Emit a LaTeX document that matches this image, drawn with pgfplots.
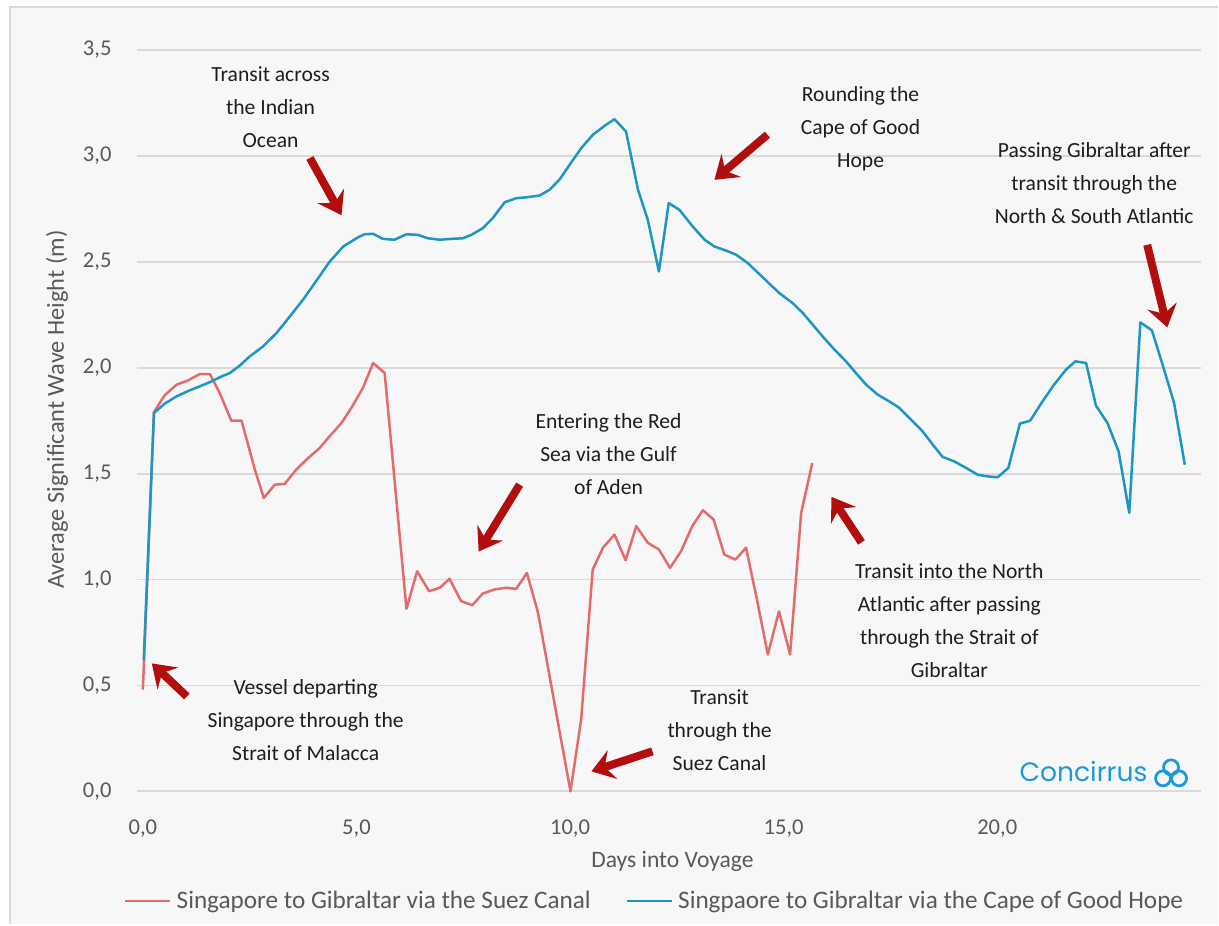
\documentclass[border=0pt]{standalone}
\usepackage{fontspec}
\setmainfont{Carlito}
\newfontfamily\logofont{Poppins}
\usepackage{pgfplots}
\pgfplotsset{compat=1.18}
\usetikzlibrary{arrows.meta}

\definecolor{chartbg}{RGB}{247,247,247}
\definecolor{framegray}{RGB}{217,217,217}
\definecolor{gridgray}{RGB}{217,217,217}
\definecolor{tickgray}{RGB}{89,89,89}
\definecolor{suezred}{RGB}{226,108,108}
\definecolor{capeblue}{RGB}{30,150,196}
\definecolor{arrowred}{RGB}{178,14,14}
\definecolor{logoblue}{RGB}{28,154,214}
\definecolor{notetext}{RGB}{30,30,30}

% Singapore -> Gibraltar via Suez (days, wave height m)
\pgfplotstableread{
day h
0.00 0.48
0.26 1.79
0.51 1.87
0.79 1.92
1.06 1.94
1.33 1.97
1.57 1.97
1.80 1.88
2.07 1.75
2.31 1.75
2.62 1.52
2.83 1.385
3.09 1.448
3.32 1.451
3.59 1.519
3.87 1.574
4.14 1.621
4.37 1.676
4.65 1.739
4.88 1.81
5.15 1.904
5.39 2.022
5.66 1.975
5.93 1.386
6.17 0.862
6.42 1.039
6.70 0.945
6.95 0.961
7.18 1.003
7.45 0.898
7.71 0.879
7.96 0.934
8.23 0.953
8.49 0.961
8.74 0.956
8.99 1.031
9.25 0.843
9.51 0.555
9.76 0.277
10.01 0.00
10.26 0.34
10.53 1.047
10.77 1.15
11.04 1.212
11.30 1.091
11.55 1.252
11.82 1.173
12.08 1.142
12.34 1.055
12.60 1.134
12.86 1.252
13.11 1.327
13.36 1.283
13.61 1.118
13.87 1.094
14.12 1.150
14.38 0.90
14.63 0.646
14.89 0.850
15.15 0.646
15.41 1.315
15.67 1.550
}\suez

% Singapore -> Gibraltar via the Cape of Good Hope
\pgfplotstableread{
day h
0.02 0.62
0.26 1.786
0.51 1.83
0.79 1.865
1.06 1.89
1.33 1.912
1.61 1.935
1.80 1.955
2.04 1.975
2.27 2.01
2.50 2.053
2.81 2.10
3.13 2.164
3.44 2.242
3.75 2.321
4.06 2.41
4.37 2.50
4.69 2.572
5.04 2.616
5.19 2.630
5.39 2.632
5.62 2.608
5.89 2.604
6.17 2.630
6.44 2.627
6.67 2.611
6.95 2.604
7.22 2.608
7.49 2.611
7.69 2.627
7.96 2.659
8.19 2.706
8.47 2.781
8.74 2.800
9.01 2.805
9.29 2.813
9.52 2.840
9.75 2.887
9.99 2.958
10.26 3.036
10.53 3.099
10.81 3.142
11.04 3.173
11.31 3.115
11.59 2.840
11.82 2.698
12.08 2.454
12.31 2.777
12.56 2.745
12.87 2.667
13.15 2.604
13.38 2.572
13.65 2.553
13.89 2.533
14.16 2.494
14.42 2.444
14.68 2.394
14.90 2.352
15.21 2.305
15.45 2.258
15.68 2.203
15.91 2.148
16.19 2.085
16.46 2.030
16.69 1.975
16.93 1.920
17.20 1.873
17.47 1.841
17.71 1.810
17.98 1.755
18.25 1.700
18.49 1.637
18.72 1.579
18.99 1.558
19.27 1.527
19.54 1.495
19.77 1.487
20.01 1.483
20.26 1.527
20.53 1.736
20.77 1.750
21.06 1.841
21.33 1.920
21.61 1.991
21.83 2.030
22.08 2.022
22.31 1.821
22.58 1.739
22.84 1.605
23.09 1.315
23.35 2.214
23.62 2.176
23.87 2.014
24.14 1.833
24.39 1.542
}\cape

\tikzset{
  note/.style={align=center, text=notetext, font=\fontsize{10.8}{16.5}\selectfont},
  callout/.style={arrowred, line width=4pt,
    -{Stealth[length=11pt, width=15pt, inset=4pt]}},
}

\begin{document}
\begin{tikzpicture}[x=0.5pt,y=0.5pt]
% chart area
\fill[white] (0,0) rectangle (1219,925);
\fill[chartbg] (10,0) rectangle (1219,918);
\draw[framegray, line width=1pt] (10,0) -- (10,918) -- (1219,918);

\begin{axis}[
  at={(68.5pt,66.5pt)}, anchor=south west,
  scale only axis, width=532.5pt, height=371pt,
  xmin=-0.14, xmax=24.77, ymin=0, ymax=3.5,
  clip=false,
  axis line style={draw=none},
  major tick length=0pt,
  xtick={0,5,10,15,20},
  ytick={0,0.5,1,1.5,2,2.5,3,3.5},
  ymajorgrids,
  grid style={gridgray, line width=0.9pt},
  /pgf/number format/.cd, fixed, fixed zerofill, precision=1, use comma,
  assume math mode=true,
  /pgfplots/.cd,
  tick label style={font=\fontsize{11.3}{13}\selectfont, text=tickgray},
  yticklabel style={anchor=east, inner sep=0pt, xshift=-12.5pt},
  xticklabel style={anchor=north, inner sep=0pt, yshift=-14pt},
  legend columns=2,
  legend style={at={(0.488,-0.148)}, anchor=center, draw=none, fill=none,
    font=\fontsize{12.6}{14}\selectfont, text=tickgray,
    /tikz/every even column/.append style={column sep=15pt},
    nodes={inner xsep=2.5pt}},
  legend image code/.code={\draw[#1] (0pt,0pt) -- (22.5pt,0pt);},
]
\addplot[suezred, line width=1.25pt, line join=round] table[x=day, y=h] {\suez};
\addlegendentry{Singapore to Gibraltar via the Suez Canal}
\addplot[capeblue, line width=1.25pt, line join=round] table[x=day, y=h] {\cape};
\addlegendentry{Singpaore to Gibraltar via the Cape of Good Hope}

% route notes
\node[note] at (axis cs:2.99,3.231) {Transit across\\the Indian\\Ocean};
\node[note] at (axis cs:16.80,3.127) {Rounding the\\Cape of Good\\Hope};
\node[note] at (axis cs:22.27,2.873) {Passing Gibraltar after\\transit through the\\North \& South Atlantic};
\node[note] at (axis cs:10.90,1.590) {Entering the Red\\Sea via the Gulf\\of Aden};
\node[note] at (axis cs:18.88,0.804) {Transit into the North\\Atlantic after passing\\through the Strait of\\Gibraltar};
\node[note] at (axis cs:13.50,0.288) {Transit\\through the\\Suez Canal};
\node[note] at (axis cs:3.81,0.335) {Vessel departing\\Singapore through the\\Strait of Malacca};

\draw[callout] (axis cs:3.91,2.99) -- (axis cs:4.65,2.72);
\draw[callout] (axis cs:14.62,3.10) -- (axis cs:13.38,2.887);
\draw[callout] (axis cs:23.51,2.58) -- (axis cs:23.98,2.19);
\draw[callout] (axis cs:16.82,1.175) -- (axis cs:16.12,1.39);
\draw[callout] (axis cs:8.82,1.448) -- (axis cs:7.86,1.132);
\draw[callout] (axis cs:11.93,0.189) -- (axis cs:10.50,0.094);
\draw[callout] (axis cs:1.03,0.448) -- (axis cs:0.21,0.604);
\end{axis}

% axis titles
\node[rotate=90, text=tickgray, font=\fontsize{12.2}{14}\selectfont] at (57,515) {Average Significant Wave Height (m)};
\node[text=tickgray, font=\fontsize{11.8}{14}\selectfont] at (673,63) {Days into Voyage};

% Concirrus mark
\node[anchor=west, text=logoblue, inner sep=0pt] at (1020,153) {\resizebox{64pt}{!}{\logofont Concirrus}};
\begin{scope}[logoblue, line width=1.4pt]
  \draw (1164,146) circle (7.5);
  \draw (1180,146) circle (7.5);
  \draw (1172,157) circle (7.5);
\end{scope}
\end{tikzpicture}
\end{document}
